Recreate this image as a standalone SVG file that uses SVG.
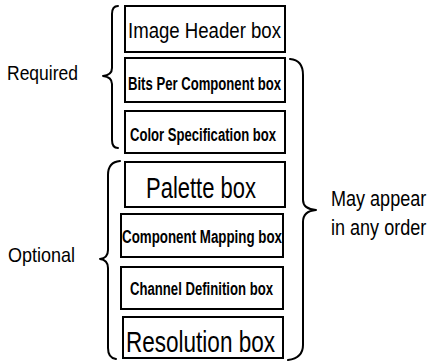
<svg xmlns="http://www.w3.org/2000/svg" width="433" height="364" viewBox="0 0 433 364">
<style>
  .box { fill: #ffffff; stroke: #000000; stroke-width: 2; }
  .t { font-family: "Liberation Sans", Arial, sans-serif; fill: #000000; }
  .b { font-weight: bold; }
  .brace { fill: none; stroke: #000000; stroke-width: 2; stroke-linecap: round; stroke-linejoin: round; }
</style>
<rect width="433" height="364" fill="#ffffff"/>
<g id="labels">
  <text class="t" x="7" y="80" font-size="21" textLength="71" lengthAdjust="spacingAndGlyphs">Required</text>
  <text class="t" x="8" y="262" font-size="21" textLength="67" lengthAdjust="spacingAndGlyphs">Optional</text>
  <text class="t" transform="translate(331,206) scale(0.82,1)" x="0" y="0" font-size="22">May appear</text>
  <text class="t" transform="translate(331,235) scale(0.82,1)" x="0" y="0" font-size="22">in any order</text>
</g>
<g id="image-header">
  <rect class="box" x="125" y="6" width="160" height="46"/>
  <text class="t" x="128" y="38" font-size="22" textLength="153" lengthAdjust="spacingAndGlyphs">Image Header box</text>
</g>
<g id="bits-per-component">
  <rect class="box" x="125" y="58" width="160" height="44"/>
  <text class="t b" x="128" y="90" font-size="19" textLength="153" lengthAdjust="spacingAndGlyphs">Bits Per Component box</text>
</g>
<g id="color-specification">
  <rect class="box" x="125" y="111" width="160" height="42"/>
  <text class="t b" x="130" y="141" font-size="18" textLength="146" lengthAdjust="spacingAndGlyphs">Color Specification box</text>
</g>
<g id="palette">
  <rect class="box" x="125" y="162" width="160" height="45"/>
  <text class="t" x="146" y="198" font-size="29" textLength="110" lengthAdjust="spacingAndGlyphs">Palette box</text>
</g>
<g id="component-mapping">
  <rect class="box" x="121" y="214" width="162" height="43"/>
  <text class="t b" x="122" y="243" font-size="18" textLength="160" lengthAdjust="spacingAndGlyphs">Component Mapping box</text>
</g>
<g id="channel-definition">
  <rect class="box" x="121" y="267" width="162" height="42"/>
  <text class="t b" x="130" y="295" font-size="18" textLength="143" lengthAdjust="spacingAndGlyphs">Channel Definition box</text>
</g>
<g id="resolution">
  <rect class="box" x="123" y="317" width="160" height="41"/>
  <text class="t" x="126" y="352" font-size="30" textLength="149" lengthAdjust="spacingAndGlyphs">Resolution box</text>
</g>
<g id="connectors">
  <path class="brace" d="M118,6 Q112,6 112,14 L112,68 Q112,75 103,76 Q112,77 112,84 L112,140 Q112,148 118,148"/>
  <path class="brace" d="M120,161 Q108,162 108,175 L108,250 Q108,258 100,259 Q108,260 108,268 L108,348 Q108,358 116,359"/>
  <path class="brace" d="M290,59 Q303,60 303,75 L303,200 Q303,209 316,210 Q303,211 303,222 L303,345 Q303,358 288,360"/>
</g>
</svg>
